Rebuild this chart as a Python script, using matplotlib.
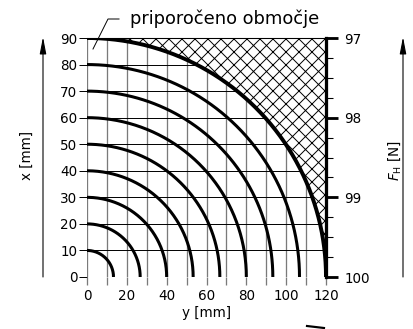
import matplotlib
matplotlib.use('Agg')
import matplotlib.pyplot as plt
import numpy as np

# arc end points: on the x axis (vertical) and on the y axis (horizontal)
x_ends = [10, 20, 30, 40, 50, 60, 70, 80, 90]
y_ends = [13.3, 26.7, 40, 53.3, 66.7, 80, 93.3, 106.7, 120]
x_ticks = [0, 10, 20, 30, 40, 50, 60, 70, 80, 90]
y_ticks = [0, 20, 40, 60, 80, 100, 120]
f_ticks = [97, 98, 99, 100]
label_text = 'priporočeno območje'

DPI = 78
W, H = 413, 329
plt.rcParams['font.family'] = 'DejaVu Sans'
plt.rcParams['hatch.linewidth'] = 0.9
fs = 12.5

fig = plt.figure(figsize=(W / DPI, H / DPI), dpi=DPI)
ax = fig.add_axes([87 / W, 1 - 277 / H, 239 / W, 239 / H])

t = np.linspace(0, np.pi / 2, 200)

# hatched area outside the largest arc
ry, rx = y_ends[-1], x_ends[-1]
hy = np.concatenate([ry * np.sin(t), [ry]])
hx = np.concatenate([rx * np.cos(t), [rx]])
ax.fill(hy, hx, facecolor='white', edgecolor='black', hatch='xx', lw=0, zorder=2)

for i, (rx_, ry_) in enumerate(zip(x_ends, y_ends)):
    lw = 3.6 if i == len(x_ends) - 1 else 2.8
    ax.plot(ry_ * np.cos(t), rx_ * np.sin(t), color='black', lw=lw,
            solid_capstyle='butt', zorder=3)

ax.set_xlim(0, 120)
ax.set_ylim(0, 90)

ax.set_xticks(y_ticks)
ax.set_xticks(range(10, 120, 20), minor=True)
ax.set_yticks(x_ticks)
ax.set_xticklabels([str(v) for v in y_ticks], fontsize=fs)
ax.set_yticklabels([str(v) for v in x_ticks], fontsize=fs)
ax.tick_params(axis='x', which='both', length=7, width=1.2, color='#7a7a7a', pad=4)
ax.tick_params(axis='y', length=7, width=0.9, color='black', pad=2)
ax.grid(axis='x', which='both', color='#7a7a7a', lw=1.2, zorder=1)
ax.grid(axis='y', color='black', lw=0.9, zorder=1)
ax.set_axisbelow(True)

for s in ['left', 'bottom']:
    ax.spines[s].set_visible(False)
ax.spines['top'].set_linewidth(1.0)
ax.spines['right'].set_visible(False)

# right axis F_H
ax2 = ax.twinx()
ax2.set_ylim(100, 97)
ax2.set_yticks(f_ticks)
ax2.set_yticks(np.arange(97, 100.01, 0.25), minor=True)
ax2.set_yticklabels([str(v) for v in f_ticks], fontsize=fs)
ax2.tick_params(axis='y', which='major', length=11, width=2.6, pad=6)
ax2.tick_params(axis='y', which='minor', length=6, width=1.0)
for s in ['left', 'bottom', 'top']:
    ax2.spines[s].set_visible(False)
ax2.spines['right'].set_linewidth(3.0)
ax2.spines['right'].set_zorder(5)

# axis labels and arrows
fig.text(27 / W, 1 - 155 / H, 'x [mm]', rotation=90, ha='center', va='center', fontsize=fs)
fig.text(395 / W, 1 - 160 / H, r'$F_\mathrm{H}$ [N]', rotation=90, ha='center', va='center', fontsize=fs)
fig.text(207 / W, 1 - 313 / H, 'y [mm]', ha='center', va='center', fontsize=fs)

arrow = dict(arrowstyle='-|>,head_length=1.3,head_width=0.25', lw=1.0, color='black',
             mutation_scale=10, shrinkA=0, shrinkB=0)
ax.annotate('', xy=(43 / W, 1 - 37 / H), xytext=(43 / W, 1 - 277 / H),
            xycoords='figure fraction', textcoords='figure fraction', arrowprops=arrow)
ax.annotate('', xy=(403 / W, 1 - 37 / H), xytext=(403 / W, 1 - 277 / H),
            xycoords='figure fraction', textcoords='figure fraction', arrowprops=arrow)

# leader for the recommended area
fig.add_artist(plt.Line2D([93 / W, 108 / W, 119 / W], [1 - 49 / H, 1 - 19 / H, 1 - 19 / H],
                          color='black', lw=0.9))
fig.text(130 / W, 1 - 19 / H, label_text, ha='left', va='center', fontsize=16.5)

# cut-off mark at the bottom edge
fig.add_artist(plt.Line2D([307 / W, 324 / W], [1 - 326 / H, 1 - 328 / H], color='black', lw=2.0))

fig.savefig('out.png', dpi=DPI)
